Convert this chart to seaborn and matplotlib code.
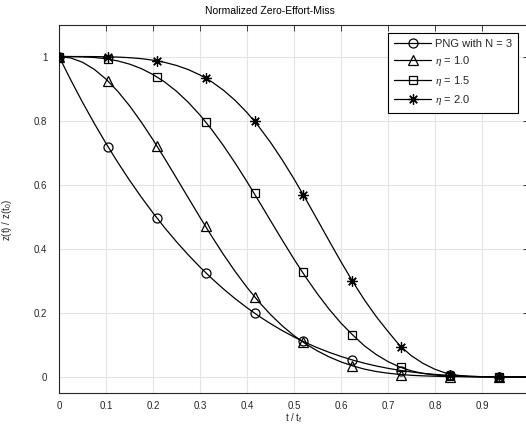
import numpy as np
import pandas as pd
import matplotlib
matplotlib.use("Agg")
import matplotlib.pyplot as plt
from matplotlib.lines import Line2D
import seaborn as sns

# ---------------- data ----------------
t_line = [0.000, 0.025, 0.050, 0.075, 0.100, 0.125, 0.150, 0.175, 0.200, 0.225,
          0.250, 0.275, 0.300, 0.325, 0.350, 0.375, 0.400, 0.425, 0.450, 0.475,
          0.500, 0.525, 0.550, 0.575, 0.600, 0.625, 0.650, 0.675, 0.700, 0.725,
          0.750, 0.775, 0.800, 0.825, 0.850, 0.875, 0.900, 0.925, 0.950, 0.975,
          1.000]

png_line = [1.0000, 0.9269, 0.8574, 0.7915, 0.7290, 0.6699, 0.6141, 0.5615, 0.5120, 0.4655,
            0.4219, 0.3811, 0.3430, 0.3075, 0.2746, 0.2441, 0.2160, 0.1901, 0.1664, 0.1447,
            0.1250, 0.1072, 0.0911, 0.0768, 0.0640, 0.0527, 0.0429, 0.0343, 0.0270, 0.0208,
            0.0156, 0.0114, 0.0080, 0.0054, 0.0034, 0.0020, 0.0010, 0.0004, 0.0001, 0.0000,
            0.0000]

eta10_line = [1.0000, 0.9956, 0.9822, 0.9601, 0.9296, 0.8915, 0.8465, 0.7957, 0.7403, 0.6815,
              0.6207, 0.5593, 0.4982, 0.4389, 0.3821, 0.3288, 0.2796, 0.2349, 0.1949, 0.1596,
              0.1291, 0.1031, 0.0812, 0.0625, 0.0470, 0.0345, 0.0245, 0.0170, 0.0118, 0.0080,
              0.0052, 0.0035, 0.0023, 0.0015, 0.0010, 0.0006, 0.0003, 0.0002, 0.0001, 0.0000,
              0.0000]

eta15_line = [1.0000, 0.9999, 0.9991, 0.9971, 0.9931, 0.9864, 0.9764, 0.9624, 0.9439, 0.9204,
              0.8916, 0.8572, 0.8173, 0.7719, 0.7217, 0.6672, 0.6094, 0.5492, 0.4880, 0.4271,
              0.3677, 0.3115, 0.2590, 0.2110, 0.1680, 0.1310, 0.0970, 0.0700, 0.0480, 0.0310,
              0.0190, 0.0110, 0.0060, 0.0035, 0.0020, 0.0010, 0.0005, 0.0002, 0.0001, 0.0000,
              0.0000]

eta20_line = [1.0000, 1.0000, 1.0000, 0.9998, 0.9993, 0.9983, 0.9965, 0.9934, 0.9887, 0.9818,
              0.9722, 0.9593, 0.9425, 0.9212, 0.8948, 0.8629, 0.8252, 0.7815, 0.7322, 0.6774,
              0.6180, 0.5550, 0.4899, 0.4241, 0.3594, 0.2975, 0.2401, 0.1884, 0.1420, 0.0980,
              0.0660, 0.0420, 0.0240, 0.0110, 0.0050, 0.0020, 0.0008, 0.0003, 0.0001, 0.0000,
              0.0000]

t_mark = [0.000, 0.104, 0.208, 0.312, 0.416, 0.520, 0.624, 0.728, 0.832, 0.936]
png_mark = [1.000, 0.719, 0.497, 0.326, 0.199, 0.111, 0.053, 0.020, 0.005, 0.000]
eta10_mark = [1.000, 0.924, 0.722, 0.470, 0.250, 0.108, 0.033, 0.007, 0.001, 0.000]
eta15_mark = [1.000, 0.992, 0.937, 0.796, 0.574, 0.327, 0.132, 0.030, 0.003, 0.000]
eta20_mark = [1.000, 0.999, 0.987, 0.933, 0.798, 0.569, 0.300, 0.095, 0.007, 0.000]

labels = ["PNG with N = 3", r"$\eta$ = 1.0", r"$\eta$ = 1.5", r"$\eta$ = 2.0"]
x_ticks = [0, 0.1, 0.2, 0.3, 0.4, 0.5, 0.6, 0.7, 0.8, 0.9, 1]
x_tick_labels = ["0", "0.1", "0.2", "0.3", "0.4", "0.5", "0.6", "0.7", "0.8", "0.9", "1"]
y_ticks = [0, 0.2, 0.4, 0.6, 0.8, 1]
y_tick_labels = ["0", "0.2", "0.4", "0.6", "0.8", "1"]

# ---------------- style ----------------
sns.set_style("white")
plt.rcParams["font.family"] = ["Liberation Sans", "DejaVu Sans"]
plt.rcParams["mathtext.fontset"] = "custom"
plt.rcParams["mathtext.rm"] = "Liberation Sans"
plt.rcParams["mathtext.it"] = "Liberation Serif:italic"
plt.rcParams["mathtext.bf"] = "Liberation Sans:bold"

W, H = 526, 438
fig = plt.figure(figsize=(W / 100, H / 100), dpi=100)
fig.patch.set_facecolor("white")
ax = fig.add_axes([59 / W, 1 - 393 / H, 470 / W, (393 - 24.5) / H])

line_sets = [png_line, eta10_line, eta15_line, eta20_line]
mark_sets = [png_mark, eta10_mark, eta15_mark, eta20_mark]
markers = ["o", "^", "s", (8, 2, 0)]
msizes = [6.5, 7, 6, 7.5]

for yl, ym, mk, ms in zip(line_sets, mark_sets, markers, msizes):
    dline = pd.DataFrame({"t": t_line, "z": yl})
    sns.lineplot(data=dline, x="t", y="z", ax=ax, color="black", linewidth=0.9,
                 legend=False, zorder=3)
    dmark = pd.DataFrame({"t": t_mark, "z": ym})
    sns.lineplot(data=dmark, x="t", y="z", ax=ax, color="black", linestyle="none",
                 marker=mk, markersize=ms, markerfacecolor="none",
                 markeredgecolor="black", markeredgewidth=0.9, legend=False, zorder=4)

ax.set_xlim(0, 1)
ax.set_ylim(-0.05, 1.1)
ax.set_xticks(x_ticks)
ax.set_xticklabels(x_tick_labels)
ax.set_yticks(y_ticks)
ax.set_yticklabels(y_tick_labels)
ax.grid(True, color="#e3e3e3", linewidth=0.8)
ax.set_axisbelow(True)
for s in ax.spines.values():
    s.set_visible(True)
    s.set_color("#262626")
    s.set_linewidth(0.8)
ax.tick_params(direction="in", top=True, right=True, length=4, width=0.6,
               colors="#262626", labelsize=7)
ax.tick_params(axis="y", pad=8.5)
ax.tick_params(axis="x", pad=6)

ax.set_xlabel(r"t / t$_{\rm f}$", fontsize=7, color="#262626")
ax.xaxis.set_label_coords(0.5, -0.05)
ax.set_ylabel(r"z(t) / z(t$_{\rm 0}$)", fontsize=7, color="#262626")
ax.yaxis.set_label_coords(-0.095, 0.47)

fig.text(269.5 / W, 1 - 11 / H, "Normalized Zero-Effort-Miss", ha="center", va="center",
         fontsize=7.5, color="black")

handles = [Line2D([0], [0], color="black", linewidth=0.9, marker=mk, markersize=ms,
                  markerfacecolor="none", markeredgecolor="black", markeredgewidth=0.9)
           for mk, ms in zip(markers, msizes)]
leg = ax.legend(handles, labels, loc="upper right",
                bbox_to_anchor=(518 / W, 1 - 33 / H), bbox_transform=fig.transFigure,
                borderaxespad=0, frameon=True, fancybox=False, fontsize=8,
                handlelength=3.4, handletextpad=0.35, labelspacing=0.5,
                borderpad=0.5, framealpha=1)
leg.get_frame().set_edgecolor("black")
leg.get_frame().set_linewidth(0.8)

fig.savefig("out.png", dpi=100, facecolor="white")
